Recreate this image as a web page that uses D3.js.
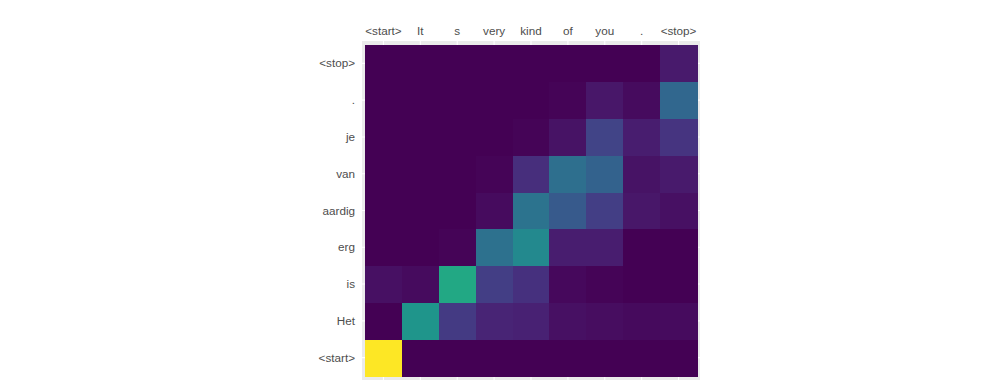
<!DOCTYPE html>
<html lang="en">
<head>
<meta charset="UTF-8">
<title>Attention heatmap</title>
<style>
  html, body { margin: 0; padding: 0; background: #fff; }
  #chart { width: 1000px; height: 387px; }
  .tick-label { font-family: "Liberation Sans", Arial, sans-serif; font-size: 11.7px; fill: #4d4d4d; }
</style>
</head>
<body>
<div id="chart"></div>
<script src="https://d3js.org/d3.v7.min.js"></script>
<script>
// source tokens (columns) and target tokens (rows, bottom to top)
const sourceTokens = ['<start>', 'It', 's', 'very', 'kind', 'of', 'you', '.', '<stop>'];
const targetTokens = ['<start>', 'Het', 'is', 'erg', 'aardig', 'van', 'je', '.', '<stop>'];

// attention weights, one row per target token (same order as targetTokens)
const rowStart  = [1.00, 0.00, 0.00, 0.00, 0.00, 0.00, 0.00, 0.00, 0.00];
const rowHet    = [0.00, 0.52, 0.17, 0.10, 0.09, 0.04, 0.035, 0.025, 0.03];
const rowIs     = [0.04, 0.03, 0.60, 0.18, 0.14, 0.02, 0.01, 0.00, 0.00];
const rowErg    = [0.00, 0.00, 0.01, 0.37, 0.47, 0.08, 0.08, 0.00, 0.00];
const rowAardig = [0.00, 0.00, 0.00, 0.03, 0.38, 0.28, 0.18, 0.06, 0.04];
const rowVan    = [0.00, 0.00, 0.00, 0.01, 0.13, 0.36, 0.31, 0.05, 0.07];
const rowJe     = [0.00, 0.00, 0.00, 0.00, 0.01, 0.05, 0.20, 0.08, 0.15];
const rowDot    = [0.00, 0.00, 0.00, 0.00, 0.00, 0.01, 0.06, 0.03, 0.33];
const rowStop   = [0.00, 0.00, 0.00, 0.00, 0.00, 0.00, 0.00, 0.00, 0.07];

const weights = [rowStart, rowHet, rowIs, rowErg, rowAardig, rowVan, rowJe, rowDot, rowStop];

const cells = [];
weights.forEach((row, i) => {
  row.forEach((v, j) => {
    cells.push({ target: targetTokens[i], source: sourceTokens[j], value: v });
  });
});

const width = 1000, height = 387;
// panel (grey background) and tile area
const panel = { left: 362, top: 41, right: 700, bottom: 380 };
const tiles = { left: 365, top: 45, right: 697, bottom: 376 };

const svg = d3.select('#chart').append('svg')
  .attr('width', width)
  .attr('height', height);

const x = d3.scaleBand()
  .domain(sourceTokens)
  .range([tiles.left, tiles.right])
  .padding(0);

const y = d3.scaleBand()
  .domain(targetTokens)
  .range([tiles.bottom, tiles.top])
  .padding(0);

const color = d3.scaleSequential(d3.interpolateViridis).domain([0, 1]);

svg.append('rect')
  .attr('x', panel.left)
  .attr('y', panel.top)
  .attr('width', panel.right - panel.left)
  .attr('height', panel.bottom - panel.top)
  .attr('fill', '#ebebeb');

// major grid lines at tile centres
svg.append('g').selectAll('line')
  .data(sourceTokens)
  .enter().append('line')
  .attr('x1', d => x(d) + x.bandwidth() / 2)
  .attr('x2', d => x(d) + x.bandwidth() / 2)
  .attr('y1', panel.top)
  .attr('y2', panel.bottom)
  .attr('stroke', '#fff')
  .attr('stroke-width', 1.1);

svg.append('g').selectAll('line')
  .data(targetTokens)
  .enter().append('line')
  .attr('y1', d => y(d) + y.bandwidth() / 2)
  .attr('y2', d => y(d) + y.bandwidth() / 2)
  .attr('x1', panel.left)
  .attr('x2', panel.right)
  .attr('stroke', '#fff')
  .attr('stroke-width', 1.1);

svg.append('g')
  .attr('shape-rendering', 'crispEdges')
  .selectAll('rect')
  .data(cells)
  .enter().append('rect')
  .attr('x', d => x(d.source))
  .attr('y', d => y(d.target))
  .attr('width', x.bandwidth() + 0.5)
  .attr('height', y.bandwidth() + 0.5)
  .attr('fill', d => color(d.value));

// top axis labels
svg.append('g').selectAll('text')
  .data(sourceTokens)
  .enter().append('text')
  .attr('class', 'tick-label')
  .attr('x', d => x(d) + x.bandwidth() / 2)
  .attr('y', 35)
  .attr('text-anchor', 'middle')
  .text(d => d);

// left axis labels
svg.append('g').selectAll('text')
  .data(targetTokens)
  .enter().append('text')
  .attr('class', 'tick-label')
  .attr('x', 355)
  .attr('y', d => y(d) + y.bandwidth() / 2)
  .attr('dy', '0.35em')
  .attr('text-anchor', 'end')
  .text(d => d);
</script>
</body>
</html>
